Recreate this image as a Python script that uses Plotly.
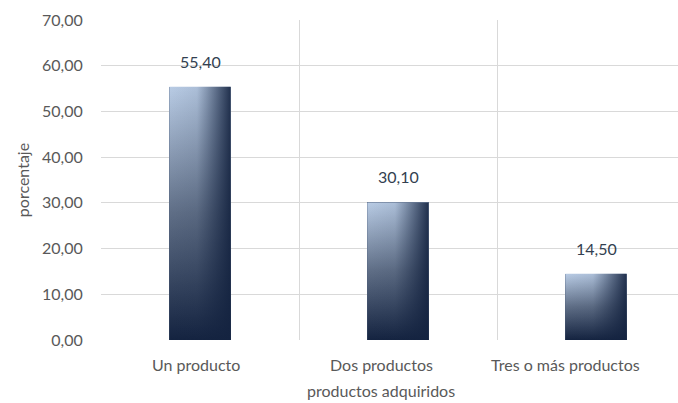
import plotly.graph_objects as go

categories = ["Un producto", "Dos productos", "Tres o más productos"]
values = [55.40, 30.10, 14.50]
y_ticks = [0, 10, 20, 30, 40, 50, 60, 70]
x_title = "productos adquiridos"
y_title = "porcentaje"

BAR_W = 0.31
FONT = "Lato, 'Open Sans', sans-serif"
FS = 16
LABEL_SHIFTS = [-4, -17, -31]   # pixel nudges to mimic the original's text placement
idx = list(range(len(categories)))

fig = go.Figure()

# base bars (solid) drawn through the axes
fig.add_trace(go.Bar(
    x=idx, y=values, width=BAR_W,
    marker=dict(color="#4d5d78", line=dict(width=0)),
    hoverinfo="skip", showlegend=False,
))

# gradient overlays built from the same data
for i, v in zip(idx, values):
    xs = [i - BAR_W / 2, i + BAR_W / 2, i + BAR_W / 2, i - BAR_W / 2, i - BAR_W / 2]
    ys = [0, 0, v, v, 0]
    fig.add_trace(go.Scatter(
        x=xs, y=ys, mode="lines", fill="toself", line=dict(width=0),
        fillgradient=dict(type="vertical",
                          colorscale=[[0, "#142340"], [0.5, "#5f6e86"], [1, "#b9cce5"]]),
        hoverinfo="skip", showlegend=False,
    ))
    fig.add_trace(go.Scatter(
        x=xs, y=ys, mode="lines", fill="toself", line=dict(width=0),
        fillgradient=dict(type="horizontal",
                          colorscale=[[0, "rgba(20,35,64,0)"], [0.45, "rgba(20,35,64,0.08)"],
                                      [0.6, "rgba(20,35,64,0.3)"], [1, "rgba(20,35,64,0.92)"]]),
        hoverinfo="skip", showlegend=False,
    ))

# value labels
for i, v in zip(idx, values):
    fig.add_annotation(x=i, y=v, text=f"{v:.2f}".replace(".", ","), showarrow=False,
                       yanchor="bottom", yshift=14,
                       font=dict(family=FONT, size=FS, color="#333f50"))

# category labels
for i, (c, s) in enumerate(zip(categories, LABEL_SHIFTS)):
    fig.add_annotation(x=i, y=0, xref="x", yref="paper", text=c, showarrow=False,
                       yanchor="middle", yshift=-24, xshift=s,
                       font=dict(family=FONT, size=FS, color="#595959"))

# x axis title
fig.add_annotation(x=1, y=0, xref="x", yref="paper", text=x_title,
                   showarrow=False, yanchor="middle", yshift=-50, xshift=-17,
                   font=dict(family=FONT, size=FS, color="#595959"))

fig.update_layout(
    width=678, height=403,
    margin=dict(l=101, r=0, t=20, b=63),
    paper_bgcolor="white", plot_bgcolor="white",
    separators=",.",
    font=dict(family=FONT, size=FS, color="#595959"),
    showlegend=False,
    bargap=0,
)
fig.update_xaxes(
    range=[-0.5, -0.5 + 577 / 198],
    tickmode="array", tickvals=idx, showticklabels=False,
    showgrid=False, zeroline=False, showline=False, ticks="",
    minor=dict(tickvals=[-0.5, 0.5, 1.5], showgrid=True, gridcolor="#d9d9d9", gridwidth=1),
    fixedrange=True,
)
fig.update_yaxes(
    range=[0, 70], tickmode="array", tickvals=y_ticks, tickformat=".2f",
    showgrid=True, gridcolor="#d9d9d9", gridwidth=1,
    zeroline=False, showline=False,
    ticks="outside", ticklen=14, tickcolor="rgba(0,0,0,0)",
    tickfont=dict(family=FONT, size=FS, color="#595959"),
    title=dict(text=y_title, font=dict(family=FONT, size=FS, color="#595959"), standoff=8),
    fixedrange=True,
)

fig.write_html("out.html")
